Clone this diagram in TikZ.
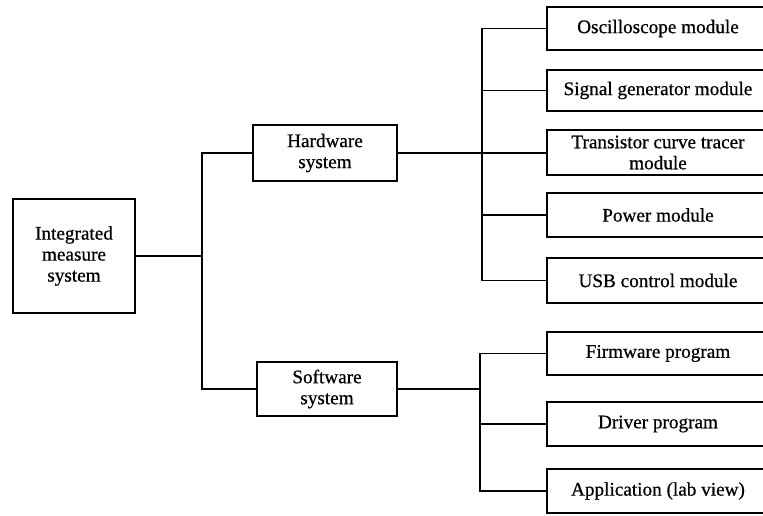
\documentclass[tikz,border=0pt]{standalone}
\usepackage{fontspec}
\setmainfont{Liberation Serif}
\newfontfamily\diagfont[FakeBold=0.6]{Liberation Serif}
\begin{document}
\begin{tikzpicture}[x=1pt,y=-1pt,
  box/.style={draw,line width=1.7pt,inner sep=0pt,align=center,
    font=\diagfont\fontsize{19.2}{21}\selectfont},
  conn/.style={line width=1.7pt}]
\clip (0,0) rectangle (763,515);
\fill[white] (0,0) rectangle (763,515);
% left
\node[box,minimum width=122,minimum height=114] (intg) at (74,256) {Integrated\\measure\\system};
\node[box,minimum width=144,minimum height=56] (hw) at (325,153) {Hardware\\system};
\node[box,minimum width=140,minimum height=54] (sw) at (327,389) {Software\\system};
% right
\node[box,minimum width=222,minimum height=43] (osc) at (658,28.5) {Oscilloscope module};
\node[box,minimum width=222,minimum height=41] (sig) at (658,90.5) {Signal generator module};
\node[box,minimum width=222,minimum height=45] (tra) at (658,152.5) {Transistor curve tracer\\module};
\node[box,minimum width=222,minimum height=44] (pow) at (658,215) {Power module};
\node[box,minimum width=222,minimum height=45] (usb) at (658,280.5) {USB control module};
\node[box,minimum width=222,minimum height=43] (fw) at (658,353.5) {Firmware program};
\node[box,minimum width=222,minimum height=44] (drv) at (658,424) {Driver program};
\node[box,minimum width=222,minimum height=44] (app) at (658,491) {Application (lab view)};
% bus coordinates
\coordinate (j1) at (202,0);
\coordinate (j2) at (482,0);
\coordinate (j3) at (480,0);
% connectors
\draw[conn] (intg.east) -- (j1 |- intg.east);
\draw[conn] (hw.west) -| (j1 |- sw.west) -- (sw.west);
\draw[conn] (hw.east) -- (hw.east -| tra.west);
\draw[conn] (osc.west) -| (j2 |- usb.west) -- (usb.west);
\draw[conn] (sig.west) -- (j2 |- sig.west);
\draw[conn] (pow.west) -- (j2 |- pow.west);
\draw[conn] (sw.east) -- (j3 |- sw.east);
\draw[conn] (fw.west) -| (j3 |- app.west) -- (app.west);
\draw[conn] (drv.west) -- (j3 |- drv.west);
\end{tikzpicture}
\end{document}
